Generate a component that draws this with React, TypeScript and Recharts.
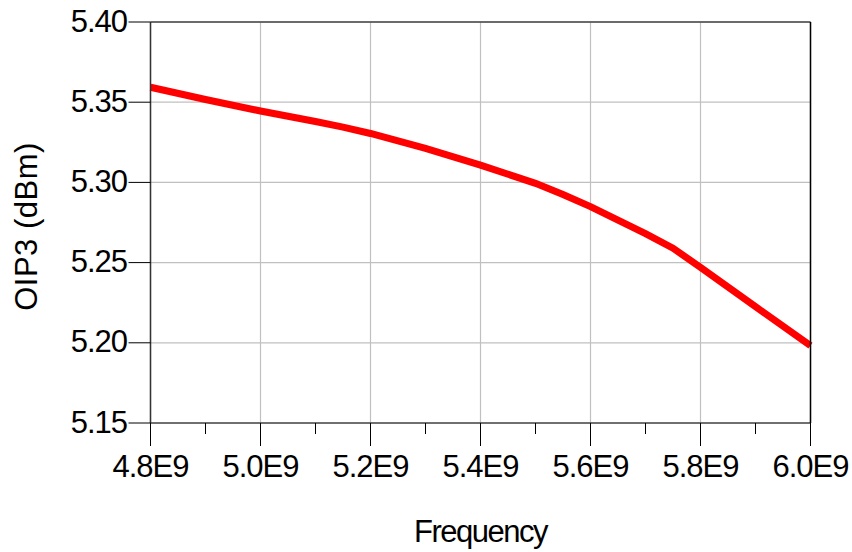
import React from "react";
import { LineChart, Line, XAxis, YAxis, CartesianGrid, ReferenceLine } from "recharts";

const freqHz = [4.8e9, 4.9e9, 5.0e9, 5.1e9, 5.15e9, 5.2e9, 5.3e9, 5.4e9, 5.5e9, 5.55e9, 5.6e9, 5.7e9, 5.75e9, 5.8e9, 5.9e9, 6.0e9];
const oip3 = [5.3593, 5.3517, 5.3445, 5.338, 5.3345, 5.3305, 5.3212, 5.3108, 5.2994, 5.2925, 5.2849, 5.268, 5.259, 5.247, 5.2225, 5.1982];

const xTicks = [4.8e9, 4.9e9, 5.0e9, 5.1e9, 5.2e9, 5.3e9, 5.4e9, 5.5e9, 5.6e9, 5.7e9, 5.8e9, 5.9e9, 6.0e9];
const xMajorTicks = [4.8e9, 5.0e9, 5.2e9, 5.4e9, 5.6e9, 5.8e9, 6.0e9];
const yTicks = [5.15, 5.2, 5.25, 5.3, 5.35, 5.4];

const data = freqHz.map((f, i) => ({ f, v: oip3[i] }));

const FONT = "'Liberation Sans', Arial, Helvetica, sans-serif";
const FS = 31;
const LS = -1;

const isMajor = (v: number) => Math.round(v / 1e8) % 2 === 0;

const XTick = (props: any) => {
  const { x, y, payload } = props;
  const major = isMajor(payload.value);
  return (
    <g>
      <line x1={x} x2={x} y1={y} y2={y + (major ? 23 : 11)} stroke="#000" strokeWidth={1} />
      {major && (
        <text x={x} y={y + 54} textAnchor="middle" fontFamily={FONT} fontSize={FS} letterSpacing={LS} fill="#000">
          {(payload.value / 1e9).toFixed(1) + "E9"}
        </text>
      )}
    </g>
  );
};

const YTick = (props: any) => {
  const { x, y, payload } = props;
  return (
    <g>
      <line x1={x - 22} x2={x} y1={y} y2={y} stroke="#000" strokeWidth={1} />
      <text x={x - 23.5} y={y + 9.5} textAnchor="end" fontFamily={FONT} fontSize={FS} letterSpacing={LS} fill="#000">
        {Number(payload.value).toFixed(2)}
      </text>
    </g>
  );
};

export default function App() {
  return (
    <div>
      <style>{`body{margin:0;overflow:hidden;}`}</style>
      <LineChart width={852} height={552} data={data} margin={{ top: 22, right: 41.5, left: 0, bottom: 0 }}>
        <CartesianGrid xAxisId="grid" stroke="#c0c0c0" strokeWidth={1.2} />
        <XAxis
          xAxisId="grid"
          dataKey="f"
          type="number"
          domain={[4.8e9, 6.0e9]}
          ticks={xMajorTicks}
          interval={0}
          hide
        />
        <XAxis
          dataKey="f"
          type="number"
          domain={[4.8e9, 6.0e9]}
          ticks={xTicks}
          interval={0}
          tickSize={0}
          tickMargin={0}
          tickLine={false}
          tick={<XTick />}
          height={129}
          axisLine={{ stroke: "#000", strokeWidth: 1 }}
          label={{
            value: "Frequency",
            position: "insideBottom",
            offset: 10,
            style: { fontFamily: FONT, fontSize: FS, letterSpacing: -1.5, fill: "#000" },
          }}
        />
        <YAxis
          type="number"
          domain={[5.15, 5.4]}
          ticks={yTicks}
          interval={0}
          tickSize={0}
          tickMargin={0}
          tickLine={false}
          tick={<YTick />}
          width={150.5}
          axisLine={{ stroke: "#333", strokeWidth: 1.5 }}
          label={{
            value: "OIP3 (dBm)",
            angle: -90,
            position: "insideLeft",
            offset: 26,
            dy: 4,
            style: { textAnchor: "middle", fontFamily: FONT, fontSize: FS, letterSpacing: 0.5, fill: "#000" },
          }}
        />
        <ReferenceLine y={5.4} stroke="#444" strokeWidth={1.5} />
        <Line
          type="linear"
          dataKey="v"
          stroke="#ff0000"
          strokeWidth={7}
          dot={false}
          isAnimationActive={false}
        />
        <ReferenceLine x={6.0e9} stroke="#000" strokeWidth={1.5} />
      </LineChart>
    </div>
  );
}
